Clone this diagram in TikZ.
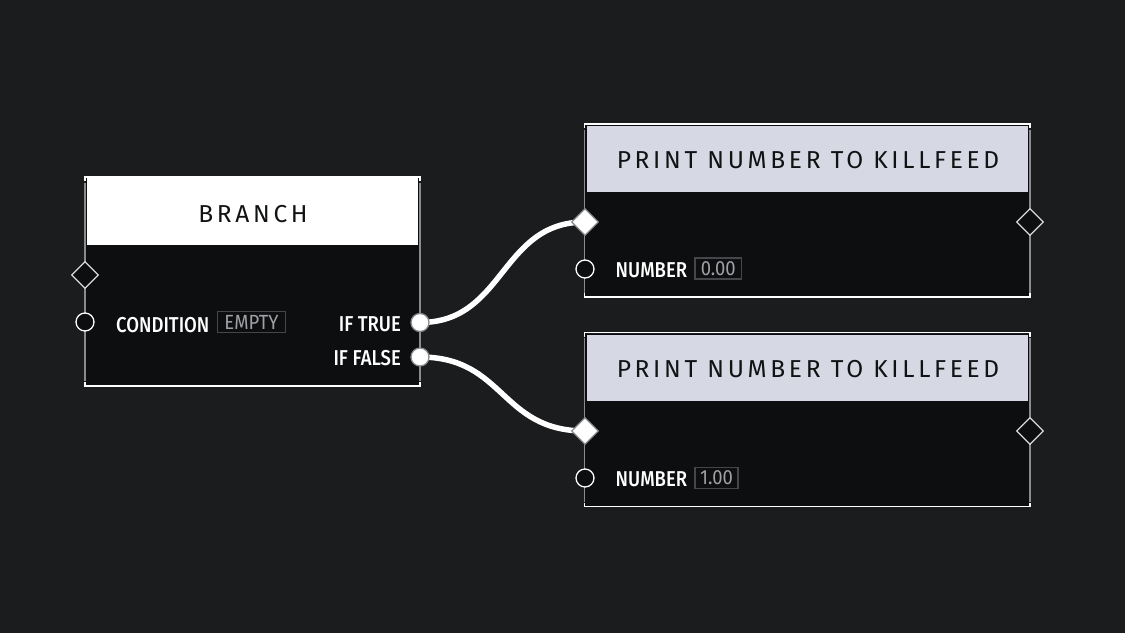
\documentclass[tikz,border=0pt]{standalone}
\usepackage{fontspec}
\setmainfont{Fira Sans}
\newfontfamily\titlefont[LetterSpace=15]{Fira Sans}
\newfontfamily\labelfont[FakeStretch=0.86]{Fira Sans Medium}
\newfontfamily\valuefont[FakeStretch=0.9]{Fira Sans}
\usetikzlibrary{shapes.geometric}
\definecolor{bgc}{HTML}{1B1C1E}
\definecolor{bodyc}{HTML}{0D0E10}
\definecolor{hdrc}{HTML}{D6D8E4}
\definecolor{sidec}{HTML}{8A8B8D}
\definecolor{valbox}{HTML}{45464A}
\definecolor{valtxt}{HTML}{A0A1A4}
\definecolor{ttlc}{HTML}{111214}
\pgfdeclarelayer{boxlayer}
\pgfdeclarelayer{wirelayer}
\pgfsetlayers{boxlayer,wirelayer,main}
\tikzset{
  edge/.style={draw=white,line width=1.6pt},
  sideline/.style={draw=sidec,line width=1.6pt},
  title/.style={font=\titlefont\fontsize{24.5}{26}\selectfont,text=ttlc,anchor=base,inner sep=0pt},
  lbl/.style={font=\labelfont\fontsize{21.5}{23}\selectfont,text=white,inner sep=0pt},
  valnode/.style={draw=valbox,line width=1.2pt,fill=bodyc,font=\valuefont\fontsize{20.5}{22}\selectfont,text=valtxt,inner sep=0pt,minimum height=21pt},
  execpin/.style={diamond,draw=white!85!black,line width=1.3pt,fill=bodyc,inner sep=0pt,minimum width=27pt,minimum height=27pt},
  execon/.style={execpin,fill=white,draw=sidec},
  datapin/.style={circle,draw=white,line width=1.3pt,fill=bodyc,inner sep=0pt,minimum size=18pt},
  dataon/.style={datapin,fill=white,draw=sidec},
  wire/.style={draw=white,line width=5.5pt},
}
\begin{document}
\begin{tikzpicture}[x=1pt,y=-1pt]
\useasboundingbox (0,0) rectangle (1125,633);
% ---------- boxes ----------
\begin{pgfonlayer}{boxlayer}
\fill[bgc] (0,0) rectangle (1125,633);
% BRANCH
\fill[bodyc] (86,178) rectangle (419,385);
\fill[white] (87,178) rectangle (418,245);
\draw[sideline] (85,183) -- (85,381);
\draw[sideline] (420,183) -- (420,381);
\draw[edge] (85,181) -- (85,177) -- (420,177) -- (420,181);
\draw[edge] (85,382) -- (85,386) -- (420,386) -- (420,382);
% PRINT 1
\fill[bodyc] (585,125) rectangle (1029,296);
\fill[hdrc] (587,126) rectangle (1028,191.5);
\draw[sideline] (584.5,130) -- (584.5,293);
\draw[sideline] (1030,130) -- (1030,293);
\draw[edge] (584.5,128) -- (584.5,124) -- (1030,124) -- (1030,128);
\draw[edge] (584.5,293) -- (584.5,297) -- (1030,297) -- (1030,293);
% PRINT 2
\fill[bodyc] (585,333.5) rectangle (1029,505.5);
\fill[hdrc] (587,334.5) rectangle (1028,401);
\draw[sideline] (584.5,338) -- (584.5,502);
\draw[sideline] (1030,338) -- (1030,502);
\draw[edge] (584.5,336.5) -- (584.5,332.5) -- (1030,332.5) -- (1030,336.5);
\draw[edge] (584.5,502.5) -- (584.5,506.5) -- (1030,506.5) -- (1030,502.5);
\end{pgfonlayer}
% ---------- titles ----------
\node[title] (tbranch) at (253,222) {BRANCH};
\node[title] (tprint1) at (808,168.3) {PRINT NUMBER TO KILLFEED};
\node[title] (tprint2) at (808,377) {PRINT NUMBER TO KILLFEED};
% ---------- labels ----------
\node[lbl,anchor=base west] (lcond) at (116,332) {CONDITION};
\node[valnode,minimum width=68pt] (vempty) at (251.5,322.3) {EMPTY};
\node[lbl,anchor=base east] (ltrue) at (401,331.7) {IF TRUE};
\node[lbl,anchor=base east] (lfalse) at (401,365.7) {IF FALSE};
\node[lbl,anchor=base west] (lnum1) at (615.5,277.7) {NUMBER};
\node[valnode,minimum width=46.5pt] (vnum1) at (718.3,268.5) {0.00};
\node[lbl,anchor=base west] (lnum2) at (615.5,486.7) {NUMBER};
\node[valnode,minimum width=43pt] (vnum2) at (716.5,478) {1.00};
% ---------- pins ----------
\node[execpin] (bexec) at (85,275) {};
\node[datapin] (bcond) at (85,322) {};
\node[dataon] (btrue) at (420,322.5) {};
\node[dataon] (bfalse) at (420,357) {};
\node[execon] (p1in) at (585,222) {};
\node[execpin] (p1out) at (1030,222) {};
\node[datapin] (p1num) at (585,269) {};
\node[execon] (p2in) at (585,431) {};
\node[execpin] (p2out) at (1030,431) {};
\node[datapin] (p2num) at (585,478) {};
% ---------- wires ----------
\begin{pgfonlayer}{wirelayer}
\draw[wire] (btrue.center) .. controls +(85,0) and +(-85,0) .. (p1in.center);
\draw[wire] (bfalse.center) .. controls +(85,0) and +(-85,0) .. (p2in.center);
\end{pgfonlayer}
\end{tikzpicture}
\end{document}
